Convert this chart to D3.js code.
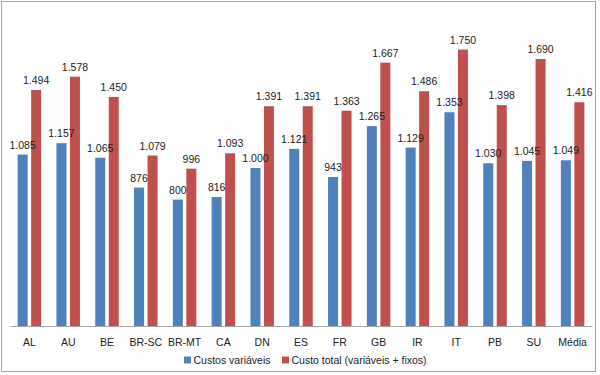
<!DOCTYPE html>
<html>
<head>
<meta charset="utf-8">
<script src="https://cdn.jsdelivr.net/npm/d3@7"></script>
<style>
  body { margin: 0; background: #fff; }
  svg text { font-family: "Liberation Sans", Arial, sans-serif; fill: #222; }
</style>
</head>
<body>
<div id="chart"></div>
<script>
const categories = ['AL', 'AU', 'BE', 'BR-SC', 'BR-MT', 'CA', 'DN', 'ES', 'FR', 'GB', 'IR', 'IT', 'PB', 'SU', 'Média']
const variableCosts = [1085, 1157, 1065, 876, 800, 816, 1000, 1121, 943, 1265, 1129, 1353, 1030, 1045, 1049]
const totalCosts = [1494, 1578, 1450, 1079, 996, 1093, 1391, 1391, 1363, 1667, 1486, 1750, 1398, 1690, 1416]
const seriesNames = ['Custos variáveis', 'Custo total (variáveis + fixos)']
const colors = ['#4f81bd', '#c0504d']

const width = 600, height = 375
const margin = { top: 10, right: 8, bottom: 49, left: 10 }

const svg = d3.select('#chart').append('svg')
    .attr('width', width)
    .attr('height', height)

// outer frame
svg.append('rect')
    .attr('x', 1.5).attr('y', 1.5)
    .attr('width', 594).attr('height', 370)
    .attr('fill', '#fff')
    .attr('stroke', '#a6a6a6')

const x = d3.scaleBand()
    .domain(categories)
    .range([margin.left, width - margin.right])

const y = d3.scaleLinear()
    .domain([0, 2000])
    .range([height - margin.bottom, margin.top])

const barW = 10, gap = 3.5

const rows = categories.map((c, i) => ({ cat: c, vals: [variableCosts[i], totalCosts[i]] }))

const groups = svg.append('g').selectAll('g')
    .data(rows)
    .join('g')
    .attr('transform', d => `translate(${x(d.cat) + x.bandwidth() / 2},0)`)

const offset = j => j === 0 ? -gap / 2 - barW : gap / 2

groups.selectAll('rect')
    .data(d => d.vals)
    .join('rect')
    .attr('x', (v, j) => offset(j))
    .attr('y', v => y(v))
    .attr('width', barW)
    .attr('height', v => y(0) - y(v))
    .attr('fill', (v, j) => colors[j])

groups.selectAll('text')
    .data(d => d.vals)
    .join('text')
    .attr('x', (v, j) => offset(j) + barW / 2)
    .attr('y', v => y(v) - 6)
    .attr('text-anchor', 'middle')
    .style('font-size', '10.5px')
    .text(v => d3.format(',')(v).replace(',', '.'))

// x axis
const xAxis = d3.axisBottom(x).tickSize(0).tickPadding(13)
svg.append('g')
    .attr('transform', `translate(0,${y(0)})`)
    .call(xAxis)
    .call(g => g.select('.domain').attr('stroke', '#a6a6a6').attr('stroke-width', 1.2))
    .call(g => g.selectAll('text').style('font-size', '10.5px').attr('fill', '#222'))

// legend
const legend = svg.append('g')
    .attr('transform', 'translate(184,360)')
const legendX = [0, 98]
seriesNames.forEach((name, i) => {
    const item = legend.append('g').attr('transform', `translate(${legendX[i]},0)`)
    item.append('rect')
        .attr('x', 0).attr('y', -3.5)
        .attr('width', 7).attr('height', 7)
        .attr('fill', colors[i])
    item.append('text')
        .attr('x', 9.5).attr('y', 4)
        .style('font-size', '10.5px')
        .text(name)
})
</script>
</body>
</html>
